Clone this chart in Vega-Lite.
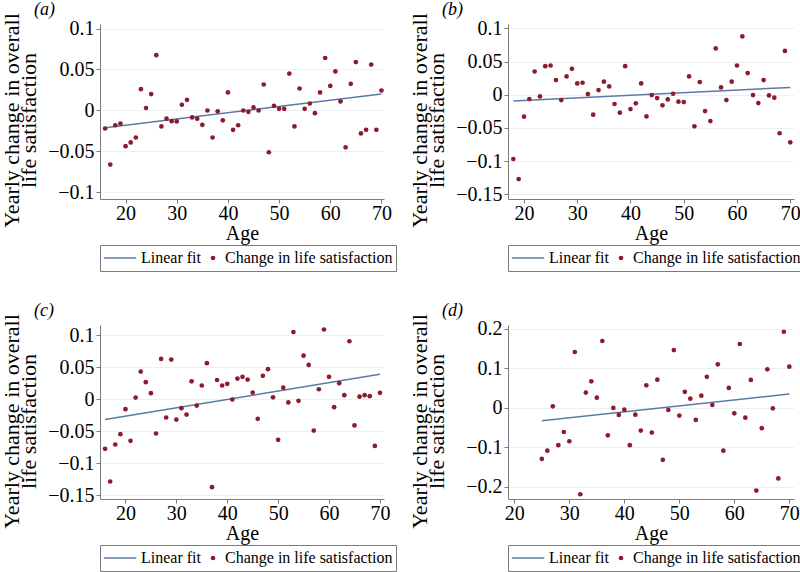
{
  "$schema": "https://vega.github.io/schema/vega-lite/v6.json",
  "padding": {"left": 0, "top": 0, "right": 0, "bottom": 0},
  "background": "white",
  "bounds": "flush",
  "datasets": {
    "pts": [
      {"panel":"a","age":16,"value":-0.022},{"panel":"a","age":17,"value":-0.066},{"panel":"a","age":18,"value":-0.018},{"panel":"a","age":19,"value":-0.016},{"panel":"a","age":20,"value":-0.0435},{"panel":"a","age":21,"value":-0.039},{"panel":"a","age":22,"value":-0.033},{"panel":"a","age":23,"value":0.026},{"panel":"a","age":24,"value":0.003},{"panel":"a","age":25,"value":0.02},{"panel":"a","age":26,"value":0.0675},{"panel":"a","age":27,"value":-0.0195},{"panel":"a","age":28,"value":-0.01},{"panel":"a","age":29,"value":-0.013},{"panel":"a","age":30,"value":-0.0134},{"panel":"a","age":31,"value":0.007},{"panel":"a","age":32,"value":0.013},{"panel":"a","age":33,"value":-0.0085},{"panel":"a","age":34,"value":-0.01},{"panel":"a","age":35,"value":-0.0175},{"panel":"a","age":36,"value":0.0},{"panel":"a","age":37,"value":-0.033},{"panel":"a","age":38,"value":-0.001},{"panel":"a","age":39,"value":-0.012},{"panel":"a","age":40,"value":0.022},{"panel":"a","age":41,"value":-0.0236},{"panel":"a","age":42,"value":-0.018},{"panel":"a","age":43,"value":0.0},{"panel":"a","age":44,"value":-0.0016},{"panel":"a","age":45,"value":0.0037},{"panel":"a","age":46,"value":0.0},{"panel":"a","age":47,"value":0.0317},{"panel":"a","age":48,"value":-0.051},{"panel":"a","age":49,"value":0.0057},{"panel":"a","age":50,"value":0.002},{"panel":"a","age":51,"value":0.002},{"panel":"a","age":52,"value":0.045},{"panel":"a","age":53,"value":-0.0195},{"panel":"a","age":54,"value":0.0268},{"panel":"a","age":55,"value":0.002},{"panel":"a","age":56,"value":0.0085},{"panel":"a","age":57,"value":-0.0033},{"panel":"a","age":58,"value":0.022},{"panel":"a","age":59,"value":0.064},{"panel":"a","age":60,"value":0.03},{"panel":"a","age":61,"value":0.0476},{"panel":"a","age":62,"value":0.011},{"panel":"a","age":63,"value":-0.045},{"panel":"a","age":64,"value":0.0325},{"panel":"a","age":65,"value":0.059},{"panel":"a","age":66,"value":-0.028},{"panel":"a","age":67,"value":-0.0236},{"panel":"a","age":68,"value":0.056},{"panel":"a","age":69,"value":-0.0236},{"panel":"a","age":70,"value":0.0244},
      {"panel":"b","age":18,"value":-0.0968},{"panel":"b","age":19,"value":-0.127},{"panel":"b","age":20,"value":-0.033},{"panel":"b","age":21,"value":-0.0065},{"panel":"b","age":22,"value":0.035},{"panel":"b","age":23,"value":-0.0025},{"panel":"b","age":24,"value":0.043},{"panel":"b","age":25,"value":0.044},{"panel":"b","age":26,"value":0.022},{"panel":"b","age":27,"value":-0.008},{"panel":"b","age":28,"value":0.0276},{"panel":"b","age":29,"value":0.039},{"panel":"b","age":30,"value":0.017},{"panel":"b","age":31,"value":0.018},{"panel":"b","age":32,"value":0.001},{"panel":"b","age":33,"value":-0.03},{"panel":"b","age":34,"value":0.007},{"panel":"b","age":35,"value":0.0196},{"panel":"b","age":36,"value":0.0125},{"panel":"b","age":37,"value":-0.014},{"panel":"b","age":38,"value":-0.027},{"panel":"b","age":39,"value":0.043},{"panel":"b","age":40,"value":-0.0216},{"panel":"b","age":41,"value":-0.013},{"panel":"b","age":42,"value":0.017},{"panel":"b","age":43,"value":-0.0326},{"panel":"b","age":44,"value":-0.0005},{"panel":"b","age":45,"value":-0.005},{"panel":"b","age":46,"value":-0.016},{"panel":"b","age":47,"value":-0.007},{"panel":"b","age":48,"value":0.0015},{"panel":"b","age":49,"value":-0.0105},{"panel":"b","age":50,"value":-0.011},{"panel":"b","age":51,"value":0.0276},{"panel":"b","age":52,"value":-0.0476},{"panel":"b","age":53,"value":0.019},{"panel":"b","age":54,"value":-0.0246},{"panel":"b","age":55,"value":-0.0396},{"panel":"b","age":56,"value":0.0697},{"panel":"b","age":57,"value":0.011},{"panel":"b","age":58,"value":-0.008},{"panel":"b","age":59,"value":0.0196},{"panel":"b","age":60,"value":0.044},{"panel":"b","age":61,"value":0.0878},{"panel":"b","age":62,"value":0.0326},{"panel":"b","age":63,"value":-0.0005},{"panel":"b","age":64,"value":-0.0125},{"panel":"b","age":65,"value":0.022},{"panel":"b","age":66,"value":-0.001},{"panel":"b","age":67,"value":-0.0045},{"panel":"b","age":68,"value":-0.058},{"panel":"b","age":69,"value":0.066},{"panel":"b","age":70,"value":-0.0717},
      {"panel":"c","age":16,"value":-0.0776},{"panel":"c","age":17,"value":-0.1286},{"panel":"c","age":18,"value":-0.0708},{"panel":"c","age":19,"value":-0.0547},{"panel":"c","age":20,"value":-0.0156},{"panel":"c","age":21,"value":-0.065},{"panel":"c","age":22,"value":0.0026},{"panel":"c","age":23,"value":0.0432},{"panel":"c","age":24,"value":0.0266},{"panel":"c","age":25,"value":0.0094},{"panel":"c","age":26,"value":-0.0536},{"panel":"c","age":27,"value":0.063},{"panel":"c","age":28,"value":-0.0286},{"panel":"c","age":29,"value":0.062},{"panel":"c","age":30,"value":-0.0318},{"panel":"c","age":31,"value":-0.014},{"panel":"c","age":32,"value":-0.024},{"panel":"c","age":33,"value":0.028},{"panel":"c","age":34,"value":-0.0099},{"panel":"c","age":35,"value":0.0214},{"panel":"c","age":36,"value":0.0563},{"panel":"c","age":37,"value":-0.1375},{"panel":"c","age":38,"value":0.03},{"panel":"c","age":39,"value":0.0214},{"panel":"c","age":40,"value":0.024},{"panel":"c","age":41,"value":-0.0005},{"panel":"c","age":42,"value":0.0323},{"panel":"c","age":43,"value":0.035},{"panel":"c","age":44,"value":0.0307},{"panel":"c","age":45,"value":0.0104},{"panel":"c","age":46,"value":-0.0307},{"panel":"c","age":47,"value":0.0365},{"panel":"c","age":48,"value":0.047},{"panel":"c","age":49,"value":0.003},{"panel":"c","age":50,"value":-0.0635},{"panel":"c","age":51,"value":0.018},{"panel":"c","age":52,"value":-0.005},{"panel":"c","age":53,"value":0.105},{"panel":"c","age":54,"value":-0.0026},{"panel":"c","age":55,"value":0.068},{"panel":"c","age":56,"value":0.0536},{"panel":"c","age":57,"value":-0.049},{"panel":"c","age":58,"value":0.0156},{"panel":"c","age":59,"value":0.109},{"panel":"c","age":60,"value":0.035},{"panel":"c","age":61,"value":-0.0125},{"panel":"c","age":62,"value":0.025},{"panel":"c","age":63,"value":0.0063},{"panel":"c","age":64,"value":0.0906},{"panel":"c","age":65,"value":-0.041},{"panel":"c","age":66,"value":0.004},{"panel":"c","age":67,"value":0.0063},{"panel":"c","age":68,"value":0.0047},{"panel":"c","age":69,"value":-0.073},{"panel":"c","age":70,"value":0.0099},
      {"panel":"d","age":25,"value":-0.1297},{"panel":"d","age":26,"value":-0.1087},{"panel":"d","age":27,"value":0.0034},{"panel":"d","age":28,"value":-0.095},{"panel":"d","age":29,"value":-0.0615},{"panel":"d","age":30,"value":-0.085},{"panel":"d","age":31,"value":0.1407},{"panel":"d","age":32,"value":-0.219},{"panel":"d","age":33,"value":0.038},{"panel":"d","age":34,"value":0.0666},{"panel":"d","age":35,"value":0.0253},{"panel":"d","age":36,"value":0.1685},{"panel":"d","age":37,"value":-0.07},{"panel":"d","age":38,"value":-0.0008},{"panel":"d","age":39,"value":-0.0185},{"panel":"d","age":40,"value":-0.005},{"panel":"d","age":41,"value":-0.095},{"panel":"d","age":42,"value":-0.0177},{"panel":"d","age":43,"value":-0.058},{"panel":"d","age":44,"value":0.0564},{"panel":"d","age":45,"value":-0.063},{"panel":"d","age":46,"value":0.0708},{"panel":"d","age":47,"value":-0.132},{"panel":"d","age":48,"value":-0.0059},{"panel":"d","age":49,"value":0.1457},{"panel":"d","age":50,"value":-0.02},{"panel":"d","age":51,"value":0.04},{"panel":"d","age":52,"value":0.0227},{"panel":"d","age":53,"value":-0.031},{"panel":"d","age":54,"value":0.0303},{"panel":"d","age":55,"value":0.078},{"panel":"d","age":56,"value":0.0067},{"panel":"d","age":57,"value":0.1095},{"panel":"d","age":58,"value":-0.1087},{"panel":"d","age":59,"value":0.05},{"panel":"d","age":60,"value":-0.0143},{"panel":"d","age":61,"value":0.161},{"panel":"d","age":62,"value":-0.0253},{"panel":"d","age":63,"value":0.07},{"panel":"d","age":64,"value":-0.2098},{"panel":"d","age":65,"value":-0.052},{"panel":"d","age":66,"value":0.097},{"panel":"d","age":67,"value":-0.0017},{"panel":"d","age":68,"value":-0.179},{"panel":"d","age":69,"value":0.192},{"panel":"d","age":70,"value":0.1036}
    ],
    "fit": [
      {"panel":"a","age":16,"value":-0.021},{"panel":"a","age":70,"value":0.0202},
      {"panel":"b","age":18,"value":-0.0095},{"panel":"b","age":70,"value":0.011},
      {"panel":"c","age":16,"value":-0.0318},{"panel":"c","age":70,"value":0.039},
      {"panel":"d","age":25,"value":-0.033},{"panel":"d","age":70,"value":0.0345}
    ]
  },
  "columns": 2,
  "spacing": {"row": 126, "column": 124},
  "concat": [
    {
      "width": 284, "height": 175,
      "title": {"text": "(a)"},
      "encoding": {
        "x": {"field": "age", "type": "quantitative", "title": "Age", "scale": {"domain": [15, 70.5], "nice": false, "zero": false}, "axis": {"values": [20,30,40,50,60,70], "labelOverlap": false}},
        "y": {"field": "value", "type": "quantitative", "title": ["Yearly change in overall", "life satisfaction"], "scale": {"domain": [-0.108, 0.1055], "nice": false, "zero": false}, "axis": {"values": [-0.1,-0.05,0,0.05,0.1], "format": ".2~f", "grid": true, "labelOverlap": false}}
      },
      "layer": [
        {"data": {"name": "fit"}, "transform": [{"filter": "datum.panel === 'a'"}],
         "mark": {"type": "line", "color": "#5b7ba6", "strokeWidth": 1.5}},
        {"data": {"name": "pts"}, "transform": [{"filter": "datum.panel === 'a'"}],
         "mark": {"type": "point", "filled": true, "opacity": 1, "strokeWidth": 0},
         "encoding": {
           "color": {"datum": "Change in life satisfaction", "type": "nominal", "scale": {"domain": ["Linear fit", "Change in life satisfaction"], "range": ["#5b7ba6", "#8b1c2c"]}},
           "shape": {"datum": "Change in life satisfaction", "type": "nominal", "scale": {"domain": ["Linear fit", "Change in life satisfaction"], "range": ["M-1,-0.05H1V0.05H-1Z", "circle"]}},
           "size": {"datum": "Change in life satisfaction", "type": "ordinal", "scale": {"domain": ["Linear fit", "Change in life satisfaction"], "range": [1050, 22]}}
         }}
      ]
    },
    {
      "width": 286, "height": 175,
      "title": {"text": "(b)"},
      "encoding": {
        "x": {"field": "age", "type": "quantitative", "title": "Age", "scale": {"domain": [17, 70.7], "nice": false, "zero": false}, "axis": {"values": [20,30,40,50,60,70], "labelOverlap": false}},
        "y": {"field": "value", "type": "quantitative", "title": ["Yearly change in overall", "life satisfaction"], "scale": {"domain": [-0.157, 0.1065], "nice": false, "zero": false}, "axis": {"values": [-0.15,-0.1,-0.05,0,0.05,0.1], "format": ".2~f", "grid": true, "labelOverlap": false}}
      },
      "layer": [
        {"data": {"name": "fit"}, "transform": [{"filter": "datum.panel === 'b'"}],
         "mark": {"type": "line", "color": "#5b7ba6", "strokeWidth": 1.5}},
        {"data": {"name": "pts"}, "transform": [{"filter": "datum.panel === 'b'"}],
         "mark": {"type": "point", "filled": true, "opacity": 1, "strokeWidth": 0},
         "encoding": {
           "color": {"datum": "Change in life satisfaction", "type": "nominal", "scale": {"domain": ["Linear fit", "Change in life satisfaction"], "range": ["#5b7ba6", "#8b1c2c"]}},
           "shape": {"datum": "Change in life satisfaction", "type": "nominal", "scale": {"domain": ["Linear fit", "Change in life satisfaction"], "range": ["M-1,-0.05H1V0.05H-1Z", "circle"]}},
           "size": {"datum": "Change in life satisfaction", "type": "ordinal", "scale": {"domain": ["Linear fit", "Change in life satisfaction"], "range": [1050, 22]}}
         }}
      ]
    },
    {
      "width": 284, "height": 174,
      "title": {"text": "(c)"},
      "encoding": {
        "x": {"field": "age", "type": "quantitative", "title": "Age", "scale": {"domain": [15, 70.8], "nice": false, "zero": false}, "axis": {"values": [20,30,40,50,60,70], "labelOverlap": false}},
        "y": {"field": "value", "type": "quantitative", "title": ["Yearly change in overall", "life satisfaction"], "scale": {"domain": [-0.156, 0.116], "nice": false, "zero": false}, "axis": {"values": [-0.15,-0.1,-0.05,0,0.05,0.1], "format": ".2~f", "grid": true, "labelOverlap": false}}
      },
      "layer": [
        {"data": {"name": "fit"}, "transform": [{"filter": "datum.panel === 'c'"}],
         "mark": {"type": "line", "color": "#5b7ba6", "strokeWidth": 1.5}},
        {"data": {"name": "pts"}, "transform": [{"filter": "datum.panel === 'c'"}],
         "mark": {"type": "point", "filled": true, "opacity": 1, "strokeWidth": 0},
         "encoding": {
           "color": {"datum": "Change in life satisfaction", "type": "nominal", "scale": {"domain": ["Linear fit", "Change in life satisfaction"], "range": ["#5b7ba6", "#8b1c2c"]}},
           "shape": {"datum": "Change in life satisfaction", "type": "nominal", "scale": {"domain": ["Linear fit", "Change in life satisfaction"], "range": ["M-1,-0.05H1V0.05H-1Z", "circle"]}},
           "size": {"datum": "Change in life satisfaction", "type": "ordinal", "scale": {"domain": ["Linear fit", "Change in life satisfaction"], "range": [1050, 22]}}
         }}
      ]
    },
    {
      "width": 286, "height": 174,
      "title": {"text": "(d)"},
      "encoding": {
        "x": {"field": "age", "type": "quantitative", "title": "Age", "scale": {"domain": [18.85, 70.85], "nice": false, "zero": false}, "axis": {"values": [20,30,40,50,60,70], "labelOverlap": false}},
        "y": {"field": "value", "type": "quantitative", "title": ["Yearly change in overall", "life satisfaction"], "scale": {"domain": [-0.231, 0.209], "nice": false, "zero": false}, "axis": {"values": [-0.2,-0.1,0,0.1,0.2], "format": ".1~f", "grid": true, "labelOverlap": false}}
      },
      "layer": [
        {"data": {"name": "fit"}, "transform": [{"filter": "datum.panel === 'd'"}],
         "mark": {"type": "line", "color": "#5b7ba6", "strokeWidth": 1.5}},
        {"data": {"name": "pts"}, "transform": [{"filter": "datum.panel === 'd'"}],
         "mark": {"type": "point", "filled": true, "opacity": 1, "strokeWidth": 0},
         "encoding": {
           "color": {"datum": "Change in life satisfaction", "type": "nominal", "scale": {"domain": ["Linear fit", "Change in life satisfaction"], "range": ["#5b7ba6", "#8b1c2c"]}},
           "shape": {"datum": "Change in life satisfaction", "type": "nominal", "scale": {"domain": ["Linear fit", "Change in life satisfaction"], "range": ["M-1,-0.05H1V0.05H-1Z", "circle"]}},
           "size": {"datum": "Change in life satisfaction", "type": "ordinal", "scale": {"domain": ["Linear fit", "Change in life satisfaction"], "range": [1050, 22]}}
         }}
      ]
    }
  ],
  "resolve": {"scale": {"x": "independent", "y": "independent", "color": "independent", "shape": "independent", "size": "independent"}, "legend": {"color": "independent", "shape": "independent", "size": "independent"}},
  "config": {
    "font": "Liberation Serif",
    "view": {"stroke": null},
    "title": {"anchor": "start", "frame": "group", "dx": -66, "fontSize": 18, "fontStyle": "italic", "fontWeight": "normal", "font": "Liberation Serif", "offset": -6, "color": "black"},
    "axis": {"labelFont": "Liberation Serif", "labelFontSize": 20, "labelColor": "black", "titleFont": "Liberation Serif", "titleFontSize": 20, "titleFontWeight": "normal", "titleColor": "black", "domainColor": "#7a7a7a", "tickColor": "#7a7a7a", "tickSize": 4, "gridColor": "#edf0f3", "grid": false, "labelOverlap": false},
    "axisY": {"minExtent": 54, "maxExtent": 54, "titlePadding": 6, "titleLineHeight": 17, "titleFontSize": 22, "labelPadding": 2, "titleY": 96},
    "axisX": {"labelPadding": 0, "titlePadding": 0, "labelFlush": false},
    "legend": {"orient": "bottom", "direction": "horizontal", "title": null, "strokeColor": "#7a7a7a", "padding": 3, "labelFont": "Liberation Serif", "labelFontSize": 16, "labelColor": "black", "labelOffset": 4, "columnPadding": 4, "offset": 2, "labelLimit": 400, "symbolOffset": 0, "clipHeight": 20}
  }
}
